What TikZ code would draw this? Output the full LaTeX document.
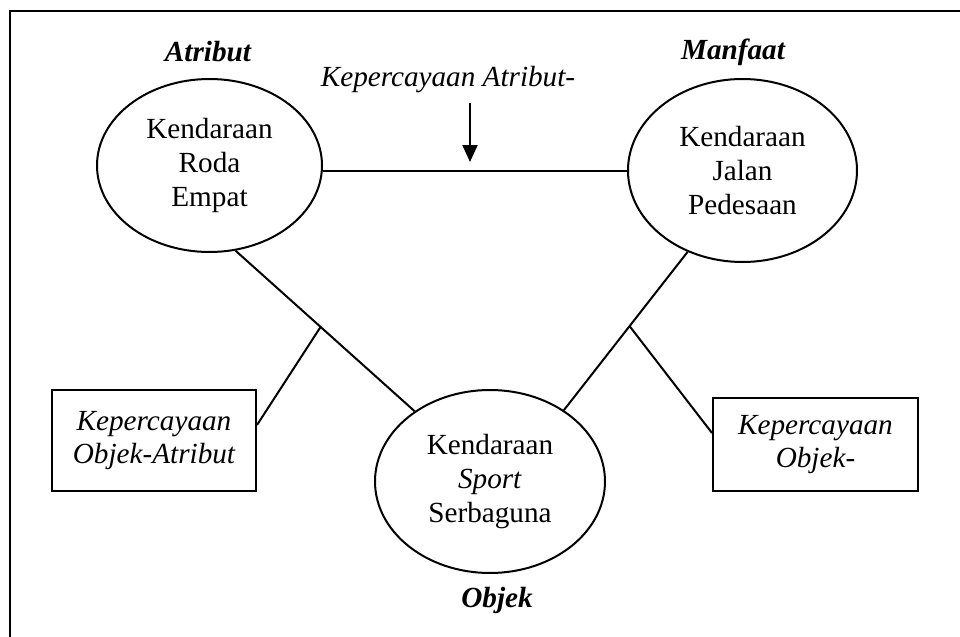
\documentclass[tikz,border=0pt]{standalone}
\usepackage{fontspec}
\setmainfont{Liberation Serif}
\usetikzlibrary{shapes.geometric,arrows.meta,calc}
\begin{document}
\begin{tikzpicture}[x=0.5pt,y=-0.5pt,
  every node/.style={font=\fontsize{14.6}{17.2}\selectfont},
  ell/.style={draw,ellipse,line width=1pt,inner sep=0pt,align=center},
  box/.style={draw,rectangle,line width=1pt,inner sep=0pt,align=center,font=\fontsize{14.6}{16.8}\selectfont\itshape},
  lbl/.style={font=\fontsize{14.6}{17}\selectfont\bfseries\itshape},
  conn/.style={line width=1pt}]
\useasboundingbox (0,0) rectangle (960,637);
\draw[line width=1.2pt] (10,640) -- (10,11) -- (962,11);

\node[ell,minimum width=112.5pt,minimum height=86.5pt] (le) at (209.5,165.5) {Kendaraan\\Roda\\Empat};
\node[ell,minimum width=114.5pt,minimum height=91.5pt] (re) at (742.5,170.5) {Kendaraan\\Jalan\\Pedesaan};
\node[ell,minimum width=115pt,minimum height=91.5pt] (be) at (490,481.5) {Kendaraan\\\textit{Sport}\\Serbaguna};

\node[box,minimum width=102pt,minimum height=50.5pt] (lbox) at (154,440.5) {Kepercayaan\\Objek-Atribut};
\node[box,minimum width=102.5pt,minimum height=46.5pt] (rbox) at (815.5,444.5) {Kepercayaan\\Objek-};

\node[lbl] (atr) at (208,52) {Atribut};
\node[lbl] (man) at (733,52) {Manfaat};
\node[lbl] (obj) at (497,600) {Objek};
\node[font=\fontsize{14.6}{17}\selectfont\itshape] (kat) at (448,80) {Kepercayaan Atribut-};

\coordinate (atop) at (470,103);
\coordinate (atip) at (470,162);
\draw[conn,-{Triangle[length=8.5pt,width=7.5pt]}] (atop) -- (atip);

\draw[conn] (re.west -| le.east) -- (re.west);

\coordinate (l1) at (le.-73);
\coordinate (l2) at (be.137);
\draw[conn] (l1) -- (l2);
\coordinate (lj) at ($(l1)!0.475!(l2)$);
\draw[conn] (lj) -- ([yshift=7.75pt]lbox.east);

\coordinate (r1) at (re.236);
\coordinate (r2) at (be.44);
\draw[conn] (r1) -- (r2);
\coordinate (rj) at ($(r1)!0.469!(r2)$);
\draw[conn] (rj) -- ([yshift=5.75pt]rbox.west);
\end{tikzpicture}
\end{document}
